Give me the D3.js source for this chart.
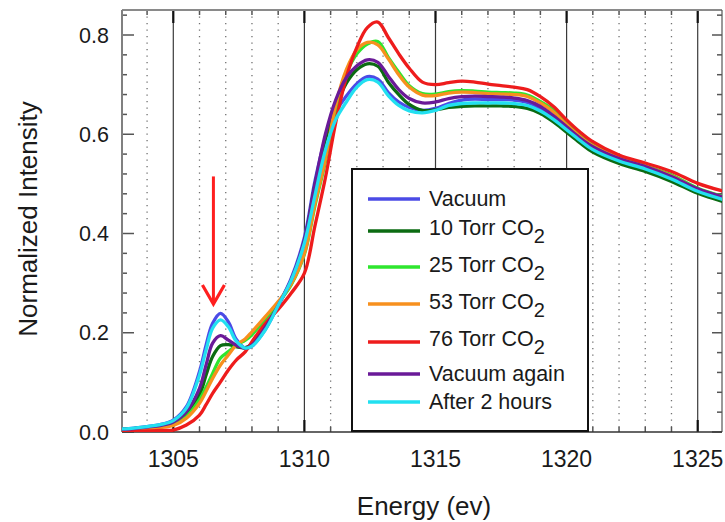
<!DOCTYPE html>
<html>
<head>
<meta charset="utf-8">
<script src="https://cdn.jsdelivr.net/npm/d3@7"></script>
<style>
  html, body { margin: 0; padding: 0; background: #fff; }
  svg { display: block; }
  text { font-family: "Liberation Sans", Arial, sans-serif; fill: #1a1a1a; }
</style>
</head>
<body>
<svg id="chart" width="725" height="522"></svg>
<script>
// ---------------- DATA ----------------
const energy = [1303, 1303.5, 1304, 1304.5, 1305, 1305.5, 1306, 1306.25, 1306.5, 1306.8,
  1307.1, 1307.4, 1307.75, 1308, 1308.5, 1309, 1309.5, 1310, 1310.4, 1310.8,
  1311.2, 1311.6, 1312, 1312.4, 1312.8, 1313.2, 1313.6, 1314, 1314.5, 1315,
  1315.5, 1316, 1316.5, 1317, 1317.5, 1318, 1318.5, 1319, 1319.5, 1320,
  1320.5, 1321, 1322, 1323, 1324, 1325, 1326];

const vacuum = [0.006, 0.008, 0.011, 0.015, 0.024, 0.051, 0.122, 0.175, 0.219, 0.239,
  0.222, 0.187, 0.169, 0.173, 0.206, 0.255, 0.310, 0.392, 0.505, 0.592,
  0.645, 0.677, 0.702, 0.716, 0.711, 0.684, 0.665, 0.654, 0.648, 0.652,
  0.662, 0.669, 0.671, 0.670, 0.670, 0.669, 0.664, 0.652, 0.633, 0.612,
  0.590, 0.572, 0.548, 0.532, 0.512, 0.487, 0.470];

const torr10 = [0.005, 0.007, 0.009, 0.012, 0.018, 0.038, 0.075, 0.115, 0.152, 0.174,
  0.176, 0.172, 0.170, 0.178, 0.212, 0.257, 0.305, 0.384, 0.497, 0.590,
  0.655, 0.703, 0.730, 0.742, 0.737, 0.705, 0.680, 0.660, 0.648, 0.649,
  0.654, 0.656, 0.657, 0.657, 0.657, 0.656, 0.652, 0.642, 0.625, 0.604,
  0.583, 0.564, 0.541, 0.525, 0.505, 0.481, 0.464];

const torr25 = [0.004, 0.006, 0.008, 0.010, 0.015, 0.031, 0.065, 0.090, 0.118, 0.149,
  0.162, 0.175, 0.185, 0.196, 0.227, 0.260, 0.297, 0.358, 0.455, 0.545,
  0.650, 0.722, 0.762, 0.782, 0.787, 0.755, 0.725, 0.698, 0.682, 0.681,
  0.686, 0.688, 0.687, 0.685, 0.684, 0.683, 0.679, 0.666, 0.649, 0.622,
  0.598, 0.579, 0.555, 0.536, 0.518, 0.491, 0.474];

const torr53 = [0.004, 0.005, 0.007, 0.009, 0.013, 0.028, 0.058, 0.082, 0.108, 0.135,
  0.155, 0.175, 0.188, 0.202, 0.232, 0.263, 0.299, 0.360, 0.460, 0.550,
  0.660, 0.730, 0.770, 0.785, 0.780, 0.752, 0.720, 0.695, 0.679, 0.678,
  0.683, 0.685, 0.684, 0.682, 0.681, 0.680, 0.676, 0.663, 0.645, 0.619,
  0.596, 0.577, 0.553, 0.535, 0.516, 0.489, 0.472];

const torr76 = [0.002, 0.002, 0.002, 0.003, 0.004, 0.014, 0.034, 0.055, 0.078, 0.101,
  0.125, 0.145, 0.162, 0.182, 0.218, 0.247, 0.280, 0.320, 0.415, 0.512,
  0.625, 0.715, 0.775, 0.815, 0.826, 0.795, 0.762, 0.733, 0.705, 0.700,
  0.704, 0.707, 0.705, 0.701, 0.698, 0.695, 0.690, 0.676, 0.656, 0.629,
  0.605, 0.585, 0.558, 0.542, 0.525, 0.501, 0.485];

const vacuumAgain = [0.005, 0.007, 0.010, 0.013, 0.020, 0.041, 0.088, 0.135, 0.179, 0.194,
  0.185, 0.175, 0.169, 0.175, 0.210, 0.255, 0.307, 0.386, 0.498, 0.600,
  0.670, 0.714, 0.738, 0.750, 0.745, 0.717, 0.690, 0.672, 0.663, 0.665,
  0.672, 0.676, 0.677, 0.676, 0.675, 0.673, 0.668, 0.656, 0.637, 0.615,
  0.593, 0.575, 0.551, 0.535, 0.515, 0.490, 0.473];

const after2h = [0.006, 0.008, 0.011, 0.015, 0.023, 0.048, 0.115, 0.165, 0.209, 0.226,
  0.212, 0.183, 0.169, 0.173, 0.205, 0.255, 0.306, 0.381, 0.476, 0.568,
  0.630, 0.665, 0.695, 0.710, 0.705, 0.678, 0.658, 0.647, 0.643, 0.648,
  0.658, 0.662, 0.663, 0.663, 0.663, 0.662, 0.658, 0.647, 0.630, 0.609,
  0.588, 0.569, 0.546, 0.530, 0.510, 0.485, 0.468];

const seriesNames = ["Vacuum", "10 Torr CO", "25 Torr CO", "53 Torr CO", "76 Torr CO", "Vacuum again", "After 2 hours"];
const seriesSub = ["", "2", "2", "2", "2", "", ""];
const seriesColors = ["#4b4be6", "#0b6b12", "#2ee62e", "#f7901e", "#ee1c1c", "#6a1a98", "#22e0f0"];
const seriesValues = [vacuum, torr10, torr25, torr53, torr76, vacuumAgain, after2h];

const xTicks = [1305, 1310, 1315, 1320, 1325];
const xMinorTicks = d3.range(1303, 1327, 1);
const yTicks = [0.0, 0.2, 0.4, 0.6, 0.8];
const yMinorTicks = d3.range(0, 0.85, 0.04);
const arrowE = 1306.53, arrowTop = 0.515, arrowTip = 0.258;

// ---------------- LAYOUT ----------------
const svg = d3.select("#chart");
const plotL = 122, plotR = 722, plotT = 10, plotB = 432;

const x = d3.scaleLinear().domain([1305, 1325]).range([173.3, 697.7]);
const y = d3.scaleLinear().domain([0, 0.8]).range([432, 35]);

svg.append("defs").append("clipPath").attr("id", "clip")
  .append("rect").attr("x", plotL).attr("y", plotT)
  .attr("width", plotR - plotL).attr("height", plotB - plotT);

// dotted minor grid
const minorOnly = xMinorTicks.filter(d => d % 5 !== 0 && x(d) > plotL + 2 && x(d) < plotR - 2);
svg.append("g").selectAll("line").data(minorOnly).join("line")
  .attr("x1", d => x(d)).attr("x2", d => x(d))
  .attr("y1", plotT).attr("y2", plotB)
  .attr("stroke", "#707070").attr("stroke-width", 1.3)
  .attr("stroke-dasharray", "1.3,5.2");

// solid major grid
svg.append("g").selectAll("line").data(xTicks).join("line")
  .attr("x1", d => x(d)).attr("x2", d => x(d))
  .attr("y1", plotT).attr("y2", plotB)
  .attr("stroke", "#3a3a3a").attr("stroke-width", 1.2);

// top & bottom ticks (inward)
const tickG = svg.append("g");
tickG.selectAll(".tt").data(minorOnly).join("line")
  .attr("x1", d => x(d)).attr("x2", d => x(d)).attr("y1", plotT).attr("y2", plotT + 5)
  .attr("stroke", "#555").attr("stroke-width", 1.5);
tickG.selectAll(".tM").data(xTicks).join("line")
  .attr("x1", d => x(d)).attr("x2", d => x(d)).attr("y1", plotT).attr("y2", plotT + 13)
  .attr("stroke", "#111").attr("stroke-width", 2.2);
tickG.selectAll(".bt").data(minorOnly).join("line")
  .attr("x1", d => x(d)).attr("x2", d => x(d)).attr("y1", plotB).attr("y2", plotB - 5)
  .attr("stroke", "#555").attr("stroke-width", 1.5);
tickG.selectAll(".bM").data(xTicks).join("line")
  .attr("x1", d => x(d)).attr("x2", d => x(d)).attr("y1", plotB).attr("y2", plotB - 12)
  .attr("stroke", "#111").attr("stroke-width", 2.2);

// left & right ticks
const yMinorOnly = yMinorTicks.filter(d => Math.abs(d / 0.2 - Math.round(d / 0.2)) > 1e-6);
tickG.selectAll(".lm").data(yMinorOnly).join("line")
  .attr("x1", plotL).attr("x2", plotL + 5).attr("y1", d => y(d)).attr("y2", d => y(d))
  .attr("stroke", "#555").attr("stroke-width", 1.5);
tickG.selectAll(".lM").data(yTicks).join("line")
  .attr("x1", plotL).attr("x2", plotL + 12).attr("y1", d => y(d)).attr("y2", d => y(d))
  .attr("stroke", "#555").attr("stroke-width", 1.5);
tickG.selectAll(".rm").data(yMinorOnly).join("line")
  .attr("x1", plotR).attr("x2", plotR - 5).attr("y1", d => y(d)).attr("y2", d => y(d))
  .attr("stroke", "#555").attr("stroke-width", 1.5);
tickG.selectAll(".rM").data(yTicks).join("line")
  .attr("x1", plotR).attr("x2", plotR - 10).attr("y1", d => y(d)).attr("y2", d => y(d))
  .attr("stroke", "#555").attr("stroke-width", 1.5);

// frame
svg.append("line").attr("x1", plotL).attr("x2", plotR).attr("y1", plotT).attr("y2", plotT)
  .attr("stroke", "#8a8a8a").attr("stroke-width", 2);
svg.append("line").attr("x1", plotL).attr("x2", plotL).attr("y1", plotT).attr("y2", plotB)
  .attr("stroke", "#808080").attr("stroke-width", 2);
svg.append("line").attr("x1", plotR).attr("x2", plotR).attr("y1", plotT).attr("y2", plotB)
  .attr("stroke", "#555").attr("stroke-width", 1.2);
svg.append("line").attr("x1", plotL).attr("x2", plotR).attr("y1", plotB).attr("y2", plotB)
  .attr("stroke", "#333").attr("stroke-width", 1.6);

// curves
const line = d3.line()
  .x((d, i) => x(energy[i]))
  .y(d => y(d))
  .curve(d3.curveCatmullRom.alpha(0.5));

svg.append("g").attr("clip-path", "url(#clip)")
  .selectAll("path").data(seriesValues).join("path")
  .attr("d", d => line(d))
  .attr("fill", "none")
  .attr("stroke", (d, i) => seriesColors[i])
  .attr("stroke-width", 3.3)
  .attr("stroke-linejoin", "round");

// red arrow annotation
const ax = x(arrowE), aTop = y(arrowTop), aTip = y(arrowTip);
svg.append("line").attr("x1", ax).attr("x2", ax).attr("y1", aTop).attr("y2", aTip - 3)
  .attr("stroke", "#ff1f1f").attr("stroke-width", 3);
svg.append("path")
  .attr("d", `M${ax - 11},${aTip - 19} L${ax},${aTip} L${ax + 11},${aTip - 19}`)
  .attr("fill", "none").attr("stroke", "#ff1f1f").attr("stroke-width", 3.2)
  .attr("stroke-linejoin", "miter");

// legend
const lg = svg.append("g");
lg.append("rect").attr("x", 352).attr("y", 169).attr("width", 236).attr("height", 262)
  .attr("fill", "#fff").attr("stroke", "#111").attr("stroke-width", 2);
const rowY = [199, 231, 267, 304, 342, 374, 402];
const textDy = [6.5, 4, 4.5, 4.5, 3.5, 7, 6.5];
seriesNames.forEach((name, i) => {
  lg.append("line").attr("x1", 368).attr("x2", 420).attr("y1", rowY[i]).attr("y2", rowY[i])
    .attr("stroke", seriesColors[i]).attr("stroke-width", 3.5);
  const t = lg.append("text").attr("x", 429).attr("y", rowY[i] + textDy[i])
    .style("font-size", "21.5px");
  t.append("tspan").text(name);
  if (seriesSub[i]) {
    t.append("tspan").attr("dy", 8).style("font-size", "20px").text(seriesSub[i]);
  }
});

// axis labels
svg.append("g").selectAll("text").data(yTicks).join("text")
  .attr("x", 109).attr("y", d => y(d)).attr("dy", "0.36em")
  .attr("text-anchor", "end").style("font-size", "21.5px")
  .text(d => d.toFixed(1));
svg.append("g").selectAll("text").data(xTicks).join("text")
  .attr("x", d => x(d)).attr("y", 467)
  .attr("text-anchor", "middle").style("font-size", "23px")
  .text(d => d);

svg.append("text").attr("transform", "translate(37,219) rotate(-90)")
  .attr("text-anchor", "middle").style("font-size", "26px")
  .text("Normalized Intensity");
svg.append("text").attr("x", 424).attr("y", 515)
  .attr("text-anchor", "middle").style("font-size", "26px")
  .text("Energy (ev)");
</script>
</body>
</html>
